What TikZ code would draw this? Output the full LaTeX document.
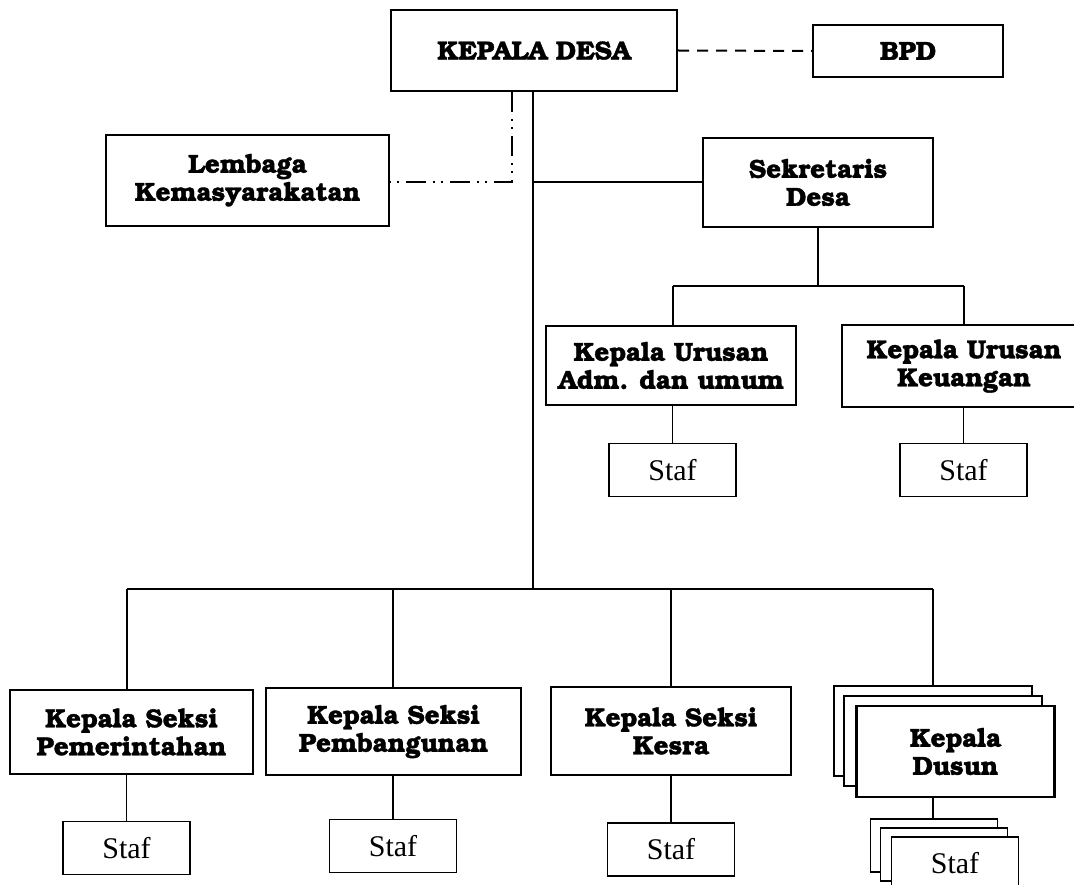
\documentclass[tikz,border=0pt]{standalone}
\usepackage[T1]{fontenc}
\usepackage{fontspec}
\newfontfamily\staffont{Liberation Serif}
\newcommand\bkfont{\fontencoding{T1}\fontfamily{pbk}\fontseries{b}\fontshape{n}\fontsize{26}{28}\selectfont}
\newcommand\heavy[1]{\special{pdf:literal direct 2 Tr 0.35 w}#1\special{pdf:literal direct 0 Tr}}
\tikzset{
  boss/.style={draw, line width=2.2pt, fill=white, inner sep=0pt, align=center, font=\bkfont},
  stafbox/.style={draw, line width=1.2pt, fill=white, inner sep=0pt, minimum width=127pt, minimum height=53pt, font=\staffont\fontsize{30}{32}\selectfont},
  link/.style={line width=2pt},
  thinlink/.style={line width=1.3pt},
  dashlink/.style={line width=2pt, dash pattern=on 11pt off 8pt},
  dashdotlink/.style={line width=2pt, dash pattern=on 20pt off 7pt on 2pt off 6pt on 2pt off 7pt}
}
\begin{document}
\begin{tikzpicture}[x=1pt,y=-1pt]
\useasboundingbox (0,0) rectangle (1074,885);
% top level
\node[boss, minimum width=286pt, minimum height=81pt] (kd) at (534,50.5) {\heavy{KEPALA DESA}};
\node[boss, minimum width=190pt, minimum height=52pt] (bpd) at (908,51) {\heavy{BPD}};
\node[boss, minimum width=283pt, minimum height=91pt] (lk) at (247.5,180.5) {\heavy{Lembaga}\\\heavy{Kemasyarakatan}};
\node[boss, minimum width=230pt, minimum height=89pt] (sd) at (818,182.5) {\heavy{Sekretaris}\\\heavy{Desa}};
% urusan
\node[boss, minimum width=250pt, minimum height=79pt] (adm) at (671,365.5) {\heavy{Kepala Urusan}\\\heavy{Adm. dan umum}};
\node[boss, minimum width=244pt, minimum height=82pt] (keu) at (964,366) {\heavy{Kepala Urusan}\\\heavy{Keuangan}};
\node[stafbox] (sadm) at (672.5,470) {Staf};
\node[stafbox] (skeu) at (963.5,470) {Staf};
% seksi
\node[boss, minimum width=243pt, minimum height=84pt] (pem) at (131.5,732) {\heavy{Kepala Seksi}\\\heavy{Pemerintahan}};
\node[boss, minimum width=255pt, minimum height=87pt] (pbg) at (393.5,731.5) {\heavy{Kepala Seksi}\\\heavy{Pembangunan}};
\node[boss, minimum width=240pt, minimum height=88pt] (kes) at (671,731) {\heavy{Kepala Seksi}\\\heavy{Kesra}};
\node[stafbox] (spem) at (126.5,848) {Staf};
\node[stafbox] (spbg) at (393,846) {Staf};
\node[stafbox] (skes) at (671,849.5) {Staf};
% dusun stack
\node[boss, minimum width=198pt, minimum height=90pt] (dback) at (933,731) {};
\node[boss, minimum width=198pt, minimum height=90pt] (dmid) at (943,741) {};
\node[boss, minimum width=198pt, minimum height=91pt] (dfront) at (955.5,751.5) {\heavy{Kepala}\\\heavy{Dusun}};
\node[stafbox] (sback) at (934,845.5) {};
\node[stafbox] (smid) at (944,854.5) {};
\node[stafbox] (sfront) at (955,863.5) {Staf};
% coordinates
\coordinate (bus) at (533,589);
\coordinate (dd) at (512,182);
\coordinate (sekbus) at (818,286);
% connectors
\draw[dashlink] (kd.east) -- (bpd.west);
\draw[dashdotlink] (kd.south -| dd) -- (dd) -- (dd -| lk.east);
\draw[link] (kd.south -| bus) -- (bus);
\draw[link] (kd.south |- sd.west) -- (sd.west);
\draw[link] (sd.south) -- (sekbus);
\draw[link] (sekbus -| sadm) -- (sekbus -| skeu);
\draw[link] (sekbus -| sadm) -- (sadm |- adm.north);
\draw[link] (sekbus -| skeu) -- (skeu |- keu.north);
\draw[thinlink] (sadm |- adm.south) -- (sadm.north);
\draw[thinlink] (skeu |- keu.south) -- (skeu.north);
\draw[link] (bus -| spem) -- (bus -| dback);
\draw[link] (bus -| spem) -- (spem |- pem.north);
\draw[link] (bus -| spbg) -- (spbg |- pbg.north);
\draw[link] (bus -| skes) -- (skes |- kes.north);
\draw[link] (bus -| dback) -- (dback.north);
\draw[thinlink] (spem |- pem.south) -- (spem.north);
\draw[thinlink] (spbg |- pbg.south) -- (spbg.north);
\draw[thinlink] (skes |- kes.south) -- (skes.north);
\draw[thinlink] (dback.south |- dfront.south) -- (dback.south |- sback.north);
\end{tikzpicture}
\end{document}
